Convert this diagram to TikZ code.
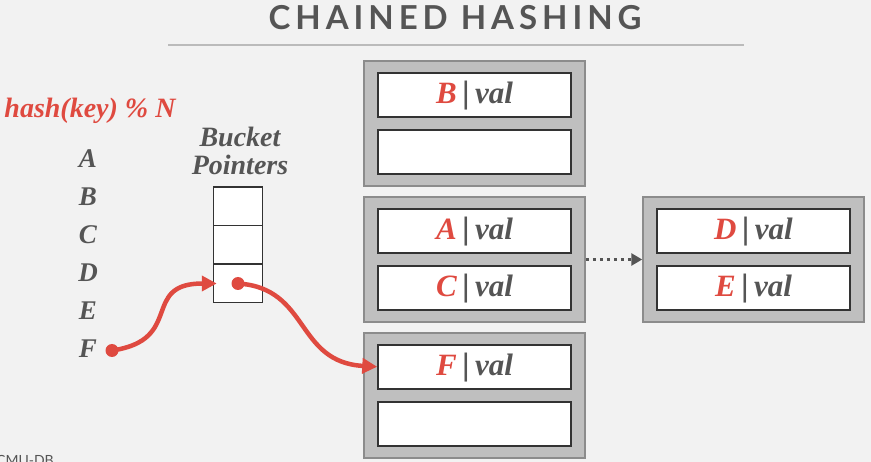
\documentclass[tikz,border=0pt]{standalone}
\usepackage{fontspec}
\setmainfont{Liberation Serif}
\newfontfamily\titlefont{Lato}[LetterSpace=15.0]
\newfontfamily\footfont{Lato}
\usetikzlibrary{positioning}
\usetikzlibrary{arrows.meta}
\definecolor{RED}{HTML}{DF4A40}
\definecolor{GRAY_T}{HTML}{555555}
\definecolor{GRAY_BG}{HTML}{F2F2F2}
\definecolor{GRAY_O}{HTML}{BFBFBF}
\definecolor{GRAY_E}{HTML}{8C8C8C}
\definecolor{GRAY_D}{HTML}{333333}
\definecolor{GRAY_R}{HTML}{BBBBBB}
\tikzset{
	every node/.style = {font=\bfseries\itshape, text=GRAY_T},
	group/.style = {draw=GRAY_E, fill=GRAY_O, line width=1.5pt, minimum width=221pt, minimum height=125pt},
	entry/.style = {draw=GRAY_D, fill=white, line width=2pt, minimum width=192.5pt, minimum height=44pt,
	                font=\bfseries\itshape\fontsize{31}{31}\selectfont, inner sep=0pt, text height=22pt, text depth=4pt},
	slot/.style = {draw=GRAY_D, fill=white, line width=1.5pt, minimum width=49pt, minimum height=38.5pt},
	hashline/.style = {RED, line width=4.5pt, -{Triangle[length=15pt,width=15pt]}},
	chainline/.style = {GRAY_T, line width=3.5pt, dash pattern=on 3.5pt off 3.5pt, -{Triangle[length=11pt,width=12pt]}}
}
\newcommand{\kv}[1]{\textcolor{RED}{#1}\,{\fontspec{Liberation Sans}\mdseries\upshape|}\,val}

\begin{document}
\begin{tikzpicture}[x=1pt, y=-1pt]
		\useasboundingbox (0,0) rectangle (871,462);
		\fill[GRAY_BG] (0,0) rectangle (871,462);
		% title
		\node[anchor=base] (title) at (455,29.5) {\titlefont\upshape\bfseries\fontsize{33}{33}\selectfont CHAINED HASHING};
		\draw[GRAY_R, line width=2pt] (168,45.5) -- (744,45.5);
		\node[anchor=base west, inner sep=0pt] (foot) at (-4,466) {\footfont\mdseries\upshape\fontsize{14}{14}\selectfont CMU-DB};
		% keys
		\node[anchor=base, text=RED, font=\bfseries\itshape\fontsize{28}{28}\selectfont] (hash) at (90,117.5) {hash(key) \% N};
		\foreach \k [count=\i from 0] in {A,B,C,D,E,F}
			\node[anchor=base, font=\bfseries\itshape\fontsize{27}{27}\selectfont] (key\k) at (88,167.5+38*\i) {\k};
		% bucket pointers
		\node[anchor=base, align=center, font=\bfseries\itshape\fontsize{28}{28.5}\selectfont] (label) at (240,175) {Bucket\\Pointers};
		\foreach \y [count=\i] in {206.5,245,283.5}
			\node[slot] (slot\i) at (238,\y) {};
		% groups
		\node[group] (g1) at (474.5,123.5) {};
		\node[group] (g2) at (474.5,259.5) {};
		\node[group] (g3) at (474.5,395.5) {};
		\node[group] (g4) at (753.5,259.5) {};
		\node[entry, below=11.5pt of g1.north] (eB) {\kv{B}};
		\node[entry, below=11pt of eB] (e1) {};
		\node[entry, below=11.5pt of g2.north] (eA) {\kv{A}};
		\node[entry, below=11pt of eA] (eC) {\kv{C}};
		\node[entry, below=11.5pt of g3.north] (eF) {\kv{F}};
		\node[entry, below=11pt of eF] (e3) {};
		\node[entry, below=11.5pt of g4.north] (eD) {\kv{D}};
		\node[entry, below=11pt of eD] (eE) {\kv{E}};
		% connectors
		\coordinate (dotF) at (112,350.5);
		\coordinate (dotD) at (238,283.5);
		\draw[chainline] (g2.east) -- (g4.west);
		\draw[hashline] (dotF) .. controls (185,340) and (140,283.5) .. ([xshift=4pt]slot3.west);
		\draw[hashline] (dotD) .. controls (310,288) and (295,362) .. (eF.west);
		\fill[RED] (dotF) circle (6.5) (dotD) circle (6.5);
	\end{tikzpicture}
\end{document}
